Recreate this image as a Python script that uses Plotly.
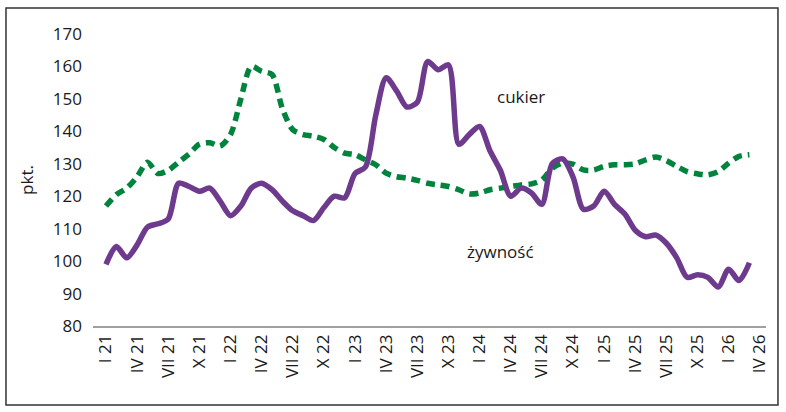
import plotly.graph_objects as go

roman = ["I", "II", "III", "IV", "V", "VI", "VII", "VIII", "IX", "X", "XI", "XII"]
months = [f"{roman[m]} {y}" for y in range(21, 27) for m in range(12)][:64]

zywnosc = [99, 104.5, 101, 105, 110.5, 111.5, 113, 124, 123, 121.5,
           122.5, 118.5, 114, 117, 122.5, 124, 122, 118.5, 115.5, 114,
           112.5, 116.5, 120, 119.5, 127, 129, 145, 156.5, 152.5, 147.5,
           149, 161.5, 159, 160.5, 136, 139, 141.5, 134, 128, 120,
           122.5, 121, 117.5, 130, 131.5, 126, 116, 117, 121.5, 117.5,
           114.5, 109.5, 107.5, 108, 105.5, 101, 95, 95.8, 95, 92,
           97.5, 94, 99.5]

cukier = [117, 120.5, 122.5, 126, 130.5, 127, 128, 130.5, 133, 136,
          136.5, 135.5, 139, 150, 160, 158.5, 157.5, 147, 140.5, 139,
          138.5, 137.5, 135, 133.3, 132.8, 131.2, 129.7, 127.1, 126, 125.6,
          124.9, 124, 123.5, 123, 122, 120.7, 121, 122, 122.5, 123,
          123.5, 123.8, 125, 128.6, 130.2, 129.9, 128.1, 128.1, 129.2, 129.7,
          129.7, 130, 131.2, 132.1, 131, 129.2, 127.6, 126.9, 126.6, 127.6,
          130.2, 132.3, 132.8]

tick_labels = months[::3]
y_ticks = list(range(80, 171, 10))

FONT = "Open Sans"
TXT = "#1a1a1a"

fig = go.Figure()
fig.add_trace(go.Scatter(
    x=months[:len(cukier)], y=cukier, mode="lines", name="cukier",
    line=dict(color="#00843D", width=5.5, dash="9px,6px", shape="spline", smoothing=0.8),
    showlegend=False,
))
fig.add_trace(go.Scatter(
    x=months[:len(zywnosc)], y=zywnosc, mode="lines", name="żywność",
    line=dict(color="#6E3A8E", width=5.5, shape="spline", smoothing=0.8),
    showlegend=False,
))

fig.add_annotation(x=months[40], y=150.7, text="cukier", showarrow=False,
                   font=dict(family=FONT, size=17, color=TXT), xanchor="center")
fig.add_annotation(x=months[38], y=103, text="żywność", showarrow=False,
                   font=dict(family=FONT, size=17, color=TXT), xanchor="center")

# outer frame
fig.add_shape(type="rect", xref="paper", yref="paper",
              x0=-0.1293, x1=1.0178, y0=-0.2705, y1=1.089,
              line=dict(color="#333333", width=1.5), layer="below")

fig.update_layout(
    width=786, height=412,
    margin=dict(l=93, r=20, t=34, b=86),
    paper_bgcolor="white", plot_bgcolor="white",
    font=dict(family=FONT, size=16, color=TXT),
    xaxis=dict(
        type="category", categoryorder="array", categoryarray=months,
        range=[-1.25, 63.6],
        tickmode="array", tickvals=tick_labels, ticktext=tick_labels,
        tickangle=-90, showgrid=False, zeroline=False,
        showline=True, linecolor="#A0A0A0", linewidth=1.5,
        ticks="", tickfont=dict(family=FONT, size=17, color=TXT),
    ),
    yaxis=dict(
        range=[80, 170], tickmode="array", tickvals=y_ticks,
        showgrid=False, zeroline=False, showline=False, ticks="",
        ticklabelstandoff=10,
        tickfont=dict(family=FONT, size=17, color=TXT),
        title=dict(text="pkt.", font=dict(family=FONT, size=17, color=TXT), standoff=14),
    ),
)

fig.write_html("out.html")
